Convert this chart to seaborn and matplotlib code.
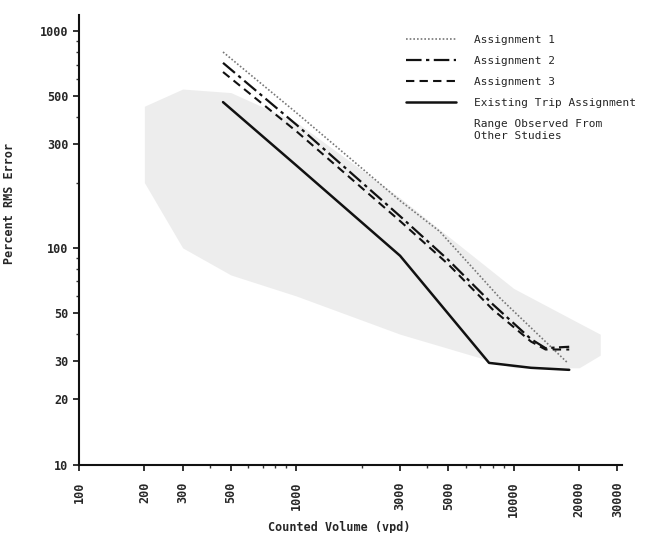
import matplotlib
matplotlib.use("Agg")
import matplotlib.pyplot as plt
import seaborn as sns
import numpy as np
import pandas as pd
from matplotlib.lines import Line2D
from matplotlib.patches import Patch
from matplotlib.ticker import FixedLocator, NullFormatter

# ---- data ----
asg1_x = [460, 1000, 3000, 4570, 8600, 17700]
asg1_y = [800, 420, 165, 119, 59, 29.5]

asg2_x = [460, 1000, 3000, 5000, 8000, 12000, 14000, 18000]
asg2_y = [713, 370, 140, 88, 55, 38, 34.5, 35]

asg3_x = [460, 1000, 3000, 5000, 8000, 12000, 14000, 18000]
asg3_y = [647, 345, 133, 84, 52, 37, 34, 34]

exist_x = [460, 1000, 3000, 7700, 12000, 18000]
exist_y = [470, 240, 92, 29.5, 28, 27.4]

range_x = [200, 300, 500, 1000, 3000, 10000, 20000, 25000]
range_hi = [450, 540, 520, 380, 170, 65, 45, 40]
range_lo = [200, 100, 75, 60, 40, 28, 28, 32]

xticks = [100, 200, 300, 500, 1000, 3000, 5000, 10000, 20000, 30000]
yticks = [10, 20, 30, 50, 100, 300, 500, 1000]

sns.set_theme(style="white")
plt.rcParams['font.family'] = ['DejaVu Sans Mono', 'DejaVu Sans']

fig = plt.figure(figsize=(6.47, 5.33), dpi=100)
ax = fig.add_axes([0.122, 0.128, 0.839, 0.844])

ax.fill_between(range_x, range_lo, range_hi, color="#e6e6e6", alpha=0.7, lw=0)

df1 = pd.DataFrame({"x": asg1_x, "y": asg1_y})
df2 = pd.DataFrame({"x": asg2_x, "y": asg2_y})
df3 = pd.DataFrame({"x": asg3_x, "y": asg3_y})
df4 = pd.DataFrame({"x": exist_x, "y": exist_y})

sns.lineplot(data=df1, x="x", y="y", ax=ax, color="#777777", lw=1.2, linestyle=(0, (1, 1.2)))
sns.lineplot(data=df2, x="x", y="y", ax=ax, color="#111111", lw=1.6, linestyle=(0, (7, 2, 1.5, 2)))
sns.lineplot(data=df3, x="x", y="y", ax=ax, color="#111111", lw=1.5, linestyle=(0, (4, 2.5)))
sns.lineplot(data=df4, x="x", y="y", ax=ax, color="#111111", lw=1.8)

ax.set_xscale("log")
ax.set_yscale("log")
ax.set_xlim(100, 31400)
ax.set_ylim(10, 1186)

ax.xaxis.set_major_locator(FixedLocator(xticks))
ax.set_xticklabels([str(v) for v in xticks], rotation=90, fontsize=8.5, fontweight="bold")
ax.yaxis.set_major_locator(FixedLocator(yticks))
ax.set_yticklabels([str(v) for v in yticks], fontsize=8.5, fontweight="bold")
ax.xaxis.set_minor_formatter(NullFormatter())
ax.yaxis.set_minor_formatter(NullFormatter())

for s in ["top", "right"]:
    ax.spines[s].set_visible(False)
for s in ["left", "bottom"]:
    ax.spines[s].set_color("#111111")
    ax.spines[s].set_linewidth(1.5)

ax.tick_params(axis="x", which="major", pad=8)
ax.tick_params(axis="both", which="major", direction="out", length=4, width=1.2, color="#111111", bottom=True, left=True)
ax.tick_params(axis="both", which="minor", direction="out", length=2, width=1, color="#333333", bottom=True, left=True)

ax.set_xlabel("Counted Volume (vpd)", fontsize=8.5, fontweight="bold")
ax.xaxis.set_label_coords(0.48, -0.125)
ax.set_ylabel("Percent RMS Error", fontsize=8.5, fontweight="bold")
ax.yaxis.set_label_coords(-0.116, 0.58)

handles = [
    Line2D([], [], color="#777777", lw=1.2, linestyle=(0, (1, 1.2))),
    Line2D([], [], color="#111111", lw=1.6, linestyle=(0, (7, 2, 1.5, 2))),
    Line2D([], [], color="#111111", lw=1.5, linestyle=(0, (4, 2.5))),
    Line2D([], [], color="#111111", lw=1.8),
    Patch(facecolor="none", edgecolor="none"),
]
labels = ["Assignment 1", "Assignment 2", "Assignment 3", "Existing Trip Assignment",
          "Range Observed From\nOther Studies"]
ax.legend(handles, labels, loc="upper right", bbox_to_anchor=(1.045, 0.978), frameon=False,
          fontsize=8, handlelength=4.5, handletextpad=1.6, labelspacing=1.0)

fig.savefig("out.png", dpi=100)
